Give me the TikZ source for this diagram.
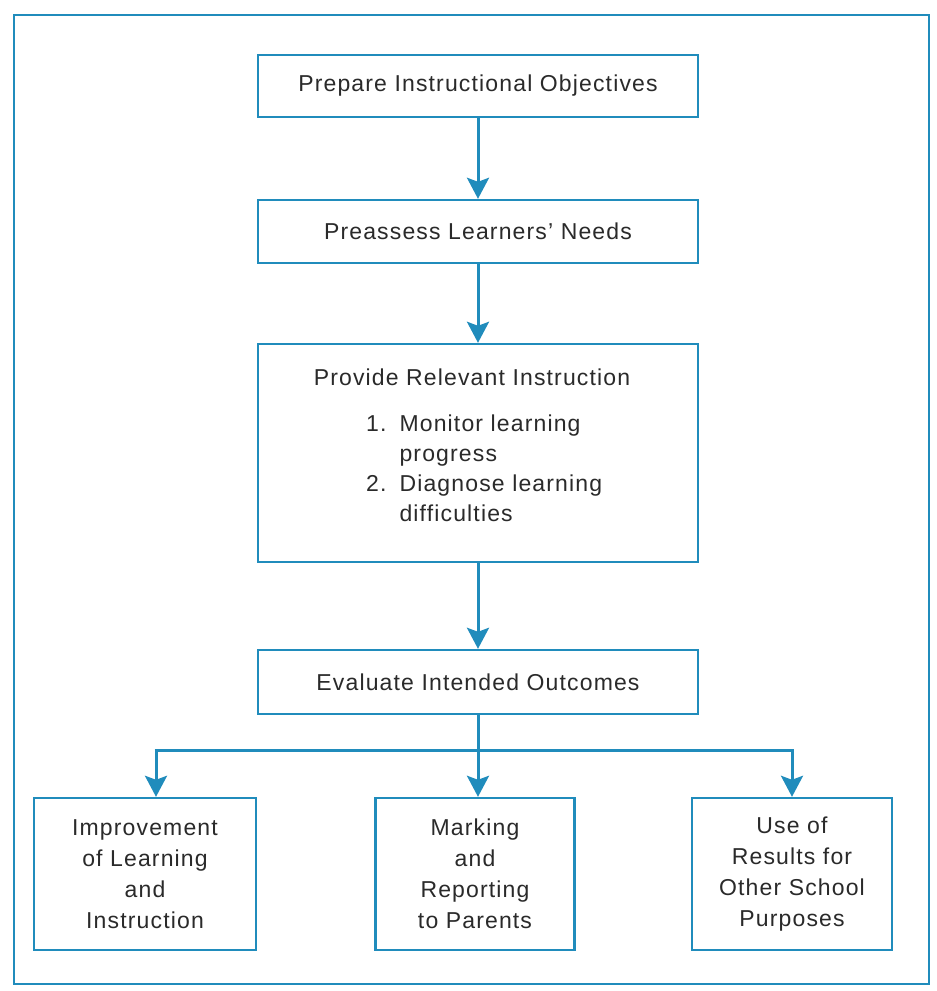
\documentclass[tikz,border=0pt]{standalone}
\usepackage{fontspec}
\setmainfont{Liberation Sans}[LetterSpace=5]
\usetikzlibrary{arrows.meta}
\definecolor{flowblue}{RGB}{32,140,188}
\definecolor{ink}{RGB}{42,42,42}
\tikzset{
  stagebox/.style={draw=flowblue, line width=2.4pt, fill=white, inner sep=0pt,
    minimum width=440pt, text=ink, font=\fontsize{23}{31}\selectfont},
  outbox/.style={draw=flowblue, line width=2.4pt, fill=white, inner sep=0pt,
    minimum height=152pt, text=ink, align=center,
    font=\fontsize{23}{31}\selectfont},
  txt/.style={inner sep=0pt, text=ink, font=\fontsize{23}{30}\selectfont},
  flow/.style={draw=flowblue, line width=3pt,
    -{Stealth[length=21pt,width=22pt,inset=4pt]}},
  link/.style={draw=flowblue, line width=3pt}
}
\begin{document}
\begin{tikzpicture}[x=1pt,y=-1pt]
\useasboundingbox (0,0) rectangle (937,991);
\fill[white] (0,0) rectangle (937,991);
% outer frame
\draw[flowblue, line width=2.4pt] (14,15) rectangle (929,984);

% main sequence
\node[stagebox, minimum height=62pt] (prep) at (478,86) {Prepare Instructional Objectives};
\node[stagebox, minimum height=63pt] (need) at (478,231.5) {Preassess Learners’ Needs};
\node[stagebox, minimum height=218pt] (inst) at (478,453) {};
\node[stagebox, minimum height=64pt] (eval) at (478,682) {Evaluate Intended Outcomes};

% contents of the instruction box
\node[txt, anchor=base] (insttitle) at (472,385) {Provide Relevant Instruction};
\node[txt, anchor=base west] (instlist) at (366,431)
  {\begin{tabular}[t]{@{}r@{\hspace{13pt}}l@{}}
   1. & Monitor learning\\
      & progress\\
   2. & Diagnose learning\\
      & difficulties
   \end{tabular}};

% outcomes
\node[outbox, minimum width=222pt] (impr) at (145,874) {Improvement\\of Learning\\and\\Instruction};
\node[outbox, minimum width=199pt] (mark) at (475,874) {Marking\\and\\Reporting\\to Parents};
\node[outbox, minimum width=200pt] (use) at (792,874) {Use of\\Results for\\Other School\\Purposes};

% connectors
\draw[flow] (prep.south) -- (need.north);
\draw[flow] (need.south) -- (inst.north);
\draw[flow] (inst.south) -- (eval.north);
\draw[flow] (eval.south) -- (eval.south |- mark.north);
\coordinate (split) at (478,750);
\coordinate (leftdrop) at (156,750);
\coordinate (rightdrop) at (792,750);
\draw[link] ([xshift=-1.5pt]leftdrop) -- ([xshift=1.5pt]rightdrop);
\draw[flow] ([yshift=-1.5pt]leftdrop) -- (leftdrop |- impr.north);
\draw[flow] ([yshift=-1.5pt]rightdrop) -- (use.north);
\end{tikzpicture}
\end{document}
